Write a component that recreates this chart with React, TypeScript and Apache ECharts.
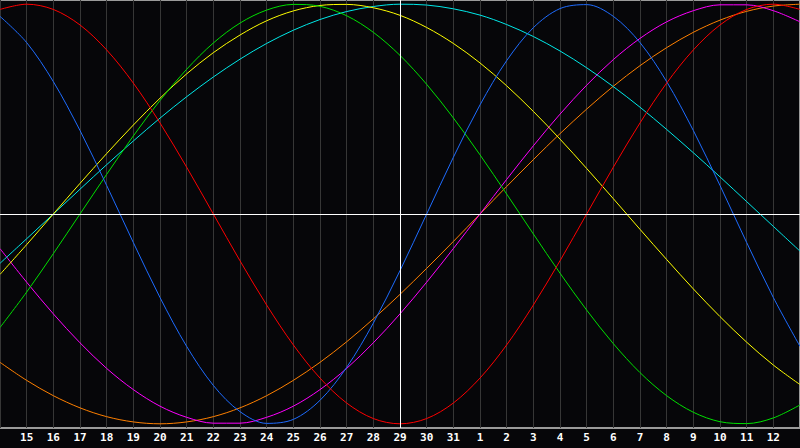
import {useEffect, useRef} from 'react';
import * as echarts from 'echarts';
import type {EChartsOption} from 'echarts';

// day labels, index 0 .. 30 (14 Dec .. 13 Jan)
const dayLabels = [
    '14', '15', '16', '17', '18', '19', '20', '21', '22', '23', '24', '25', '26', '27', '28', '29',
    '30', '31', '1', '2', '3', '4', '5', '6', '7', '8', '9', '10', '11', '12', '13',
];
const todayIndex = 15;

// cycle values, one per day
const physical = [
    0.942, 0.817, 0.631, 0.398, 0.136, -0.136, -0.398, -0.631, -0.817, -0.942, -0.998,
    -0.979, -0.888, -0.731, -0.52, -0.27, 0, 0.27, 0.52, 0.731, 0.888,
    0.979, 0.998, 0.942, 0.817, 0.631, 0.398, 0.136, -0.136, -0.398, -0.631,
];
const emotional = [
    0.975, 1, 0.975, 0.901, 0.782, 0.624, 0.434, 0.223, 0, -0.223, -0.434,
    -0.624, -0.782, -0.901, -0.975, -1, -0.975, -0.901, -0.782, -0.624, -0.434,
    -0.223, 0, 0.223, 0.434, 0.624, 0.782, 0.901, 0.975, 1, 0.975,
];
const intellectual = [
    -0.541, -0.372, -0.189, 0, 0.189, 0.372, 0.541, 0.69, 0.815, 0.91, 0.972,
    0.999, 0.99, 0.945, 0.866, 0.756, 0.618, 0.458, 0.282, 0.095, -0.095,
    -0.282, -0.458, -0.618, -0.756, -0.866, -0.945, -0.99, -0.999, -0.972, -0.91,
];
const intuitive = [
    -0.165, -0.325, -0.476, -0.614, -0.736, -0.837, -0.916, -0.969, -0.997, -0.997, -0.969,
    -0.916, -0.837, -0.736, -0.614, -0.476, -0.325, -0.165, 0, 0.165, 0.325,
    0.476, 0.614, 0.736, 0.837, 0.916, 0.969, 0.997, 0.997, 0.969, 0.916,
];
const aesthetic = [
    -0.288, -0.146, 0, 0.146, 0.288, 0.424, 0.552, 0.668, 0.769, 0.853, 0.921,
    0.968, 0.994, 0.999, 0.983, 0.947, 0.889, 0.813, 0.72, 0.611, 0.489,
    0.357, 0.217, 0.073, -0.073, -0.217, -0.357, -0.489, -0.611, -0.72, -0.813,
];
const awareness = [
    -0.707, -0.793, -0.866, -0.924, -0.966, -0.991, -1, -0.991, -0.966, -0.924, -0.866,
    -0.793, -0.707, -0.609, -0.5, -0.383, -0.259, -0.131, 0, 0.131, 0.259,
    0.383, 0.5, 0.609, 0.707, 0.793, 0.866, 0.924, 0.966, 0.991, 1,
];
const spiritual = [
    -0.235, -0.118, 0, 0.118, 0.235, 0.348, 0.457, 0.559, 0.653, 0.738, 0.813,
    0.876, 0.927, 0.965, 0.989, 1, 0.996, 0.978, 0.948, 0.903, 0.846,
    0.777, 0.697, 0.607, 0.509, 0.403, 0.292, 0.177, 0.059, -0.059, -0.177,
];

const cycles = [
    {name: 'awareness', data: awareness, color: '#ff8000'},
    {name: 'intuitive', data: intuitive, color: '#ff00ff'},
    {name: 'spiritual', data: spiritual, color: '#00e8e8'},
    {name: 'aesthetic', data: aesthetic, color: '#ffff00'},
    {name: 'intellectual', data: intellectual, color: '#00e000'},
    {name: 'physical', data: physical, color: '#1e6cff'},
    {name: 'emotional', data: emotional, color: '#ff0000'},
];

const Biorhythm = () => {
    const chartRef = useRef<HTMLDivElement>(null);

    useEffect(() => {
        if (!chartRef.current) return;
        const chart = echarts.init(chartRef.current, undefined, {renderer: 'svg'});
        const option: EChartsOption = {
            animation: false,
            backgroundColor: '#060609',
            grid: {
                left: 0,
                right: 0,
                top: 0,
                bottom: 20,
                show: true,
                borderColor: '#9a9a9a',
                borderWidth: 2,
            },
            xAxis: {
                type: 'value',
                min: 0,
                max: dayLabels.length - 1,
                interval: 1,
                axisLine: {lineStyle: {color: '#a8a8a8', width: 1}},
                axisTick: {show: false},
                axisLabel: {
                    showMinLabel: false,
                    showMaxLabel: false,
                    margin: 4,
                    color: '#ffffff',
                    fontFamily: 'DejaVu Sans Mono',
                    fontWeight: 'bold',
                    fontSize: 11,
                    formatter: (v: number) => dayLabels[v] ?? '',
                },
                splitLine: {show: true, lineStyle: {color: '#363636', width: 1}},
            },
            yAxis: {
                type: 'value',
                min: -1.02,
                max: 1.02,
                show: false,
                splitLine: {show: false},
            },
            series: [
                {
                    type: 'line',
                    data: [],
                    silent: true,
                    markLine: {
                        silent: true,
                        symbol: 'none',
                        label: {show: false},
                        lineStyle: {color: '#ffffff', width: 1, type: 'solid'},
                        data: [{yAxis: 0}, {xAxis: todayIndex}],
                    },
                },
                ...cycles.map((c) => ({
                    name: c.name,
                    type: 'line' as const,
                    data: c.data.map((v, i) => [i, v]),
                    smooth: 0.33,
                    showSymbol: false,
                    silent: true,
                    lineStyle: {color: c.color, width: 1},
                })),
            ],
        };
        chart.setOption(option);

        return () => {
            chart.dispose();
        };
    }, []);

    return <div ref={chartRef} style={{position: 'fixed', left: 0, top: 0, width: 800, height: 448}} />;
};

export default function App() {
    return <Biorhythm />;
}
